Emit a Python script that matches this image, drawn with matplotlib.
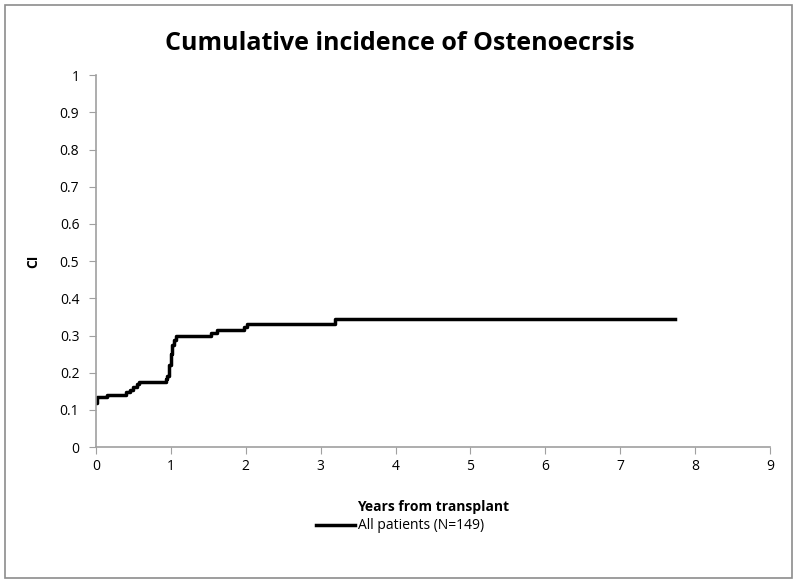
import matplotlib
matplotlib.use("Agg")
import matplotlib.pyplot as plt
from matplotlib.patches import Rectangle

# Data (step function: time in years, cumulative incidence)
times = [0.0, 0.01, 0.15, 0.40, 0.45, 0.50, 0.55, 0.58, 0.93, 0.95, 0.97, 0.98,
         1.00, 1.01, 1.02, 1.04, 1.07, 1.54, 1.62, 1.97, 2.02, 3.19, 7.73]
ci = [0.120, 0.134, 0.141, 0.148, 0.155, 0.162, 0.169, 0.176, 0.183, 0.190, 0.205, 0.220,
      0.250, 0.262, 0.275, 0.287, 0.299, 0.306, 0.315, 0.322, 0.330, 0.345, 0.345]
x_ticks = list(range(0, 10))
y_ticks = [0, 0.1, 0.2, 0.3, 0.4, 0.5, 0.6, 0.7, 0.8, 0.9, 1]
y_tick_labels = ["0", "0.1", "0.2", "0.3", "0.4", "0.5", "0.6", "0.7", "0.8", "0.9", "1"]
series_label = "All patients (N=149)"

plt.rcParams['font.family'] = ['Open Sans', 'DejaVu Sans']

fig = plt.figure(figsize=(8, 5.83), dpi=100)
ax = fig.add_axes([0.12, 0.233, 0.8425, 0.638])

ax.step(times, ci, where='post', color='black', lw=2.5, label=series_label)

ax.set_xlim(0, 9)
ax.set_ylim(0, 1)
ax.set_xticks(x_ticks)
ax.set_yticks(y_ticks)
ax.set_yticklabels(y_tick_labels)
for s in ['top', 'right']:
    ax.spines[s].set_visible(False)
for s in ['left', 'bottom']:
    ax.spines[s].set_color('#a0a0a0')
    ax.spines[s].set_linewidth(1.2)
ax.tick_params(axis='both', colors='#a0a0a0', labelcolor='black', labelsize=10,
               length=5, direction='out')
ax.tick_params(axis='y', pad=7)

ax.set_xlabel("Years from transplant", fontsize=10, fontweight='bold', labelpad=19)
ax.set_ylabel("CI", fontsize=10, fontweight='bold', labelpad=14)
fig.text(0.5, 0.925, "Cumulative incidence of Ostenoecrsis", ha='center', va='center',
         fontsize=18, fontweight='bold')

fig.legend(loc='center', bbox_to_anchor=(0.5, 0.098), frameon=False, fontsize=10,
           handlelength=2.8, handletextpad=0.2)

fig.patches.append(Rectangle((0.006, 0.008), 0.984, 0.984, transform=fig.transFigure,
                             fill=False, edgecolor='#8c8c8c', lw=1.2))

fig.savefig("out.png", dpi=100)
